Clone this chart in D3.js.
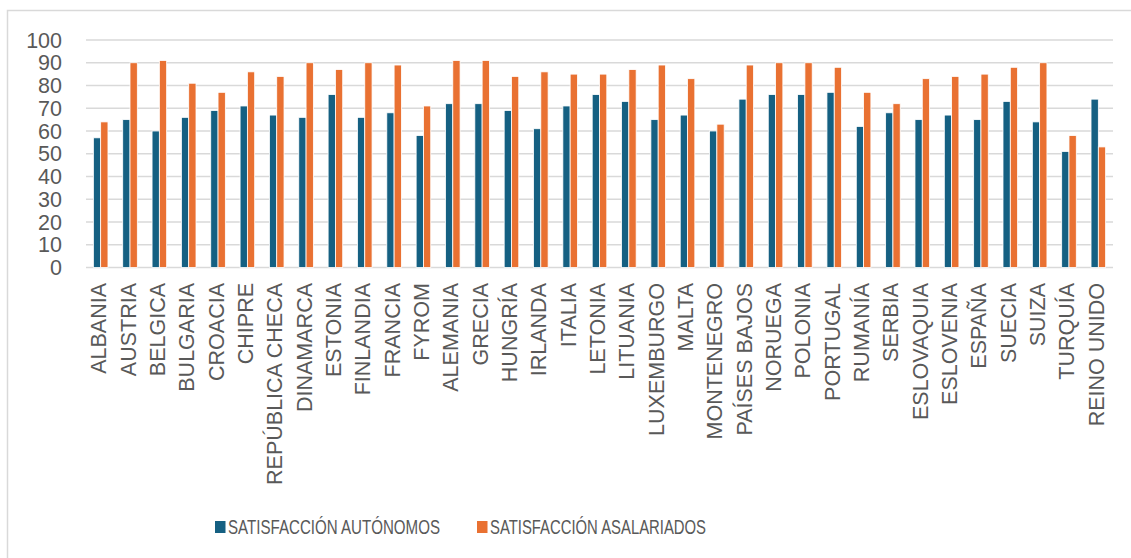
<!DOCTYPE html>
<html>
<head>
<meta charset="utf-8">
<script src="https://cdn.jsdelivr.net/npm/d3@7"></script>
<style>
  body { margin: 0; background: #fff; }
  svg { display: block; }
  text { font-family: "Liberation Sans", Arial, sans-serif; fill: #595959; }
</style>
</head>
<body>
<script>
var countries = ["ALBANIA", "AUSTRIA", "BELGICA", "BULGARIA", "CROACIA", "CHIPRE",
  "REPÚBLICA CHECA", "DINAMARCA", "ESTONIA", "FINLANDIA", "FRANCIA", "FYROM",
  "ALEMANIA", "GRECIA", "HUNGRÍA", "IRLANDA", "ITALIA", "LETONIA", "LITUANIA",
  "LUXEMBURGO", "MALTA", "MONTENEGRO", "PAÍSES BAJOS", "NORUEGA", "POLONIA",
  "PORTUGAL", "RUMANÍA", "SERBIA", "ESLOVAQUIA", "ESLOVENIA", "ESPAÑA", "SUECIA",
  "SUIZA", "TURQUÍA", "REINO UNIDO"];
var autonomos = [57, 65, 60, 66, 69, 71, 67, 66, 76, 66, 68, 58, 72, 72, 69, 61, 71, 76, 73,
  65, 67, 60, 74, 76, 76, 77, 62, 68, 65, 67, 65, 73, 64, 51, 74];
var asalariados = [64, 90, 91, 81, 77, 86, 84, 90, 87, 90, 89, 71, 91, 91, 84, 86, 85, 85, 87,
  89, 83, 63, 89, 90, 90, 88, 77, 72, 83, 84, 85, 88, 90, 58, 53];
var seriesNames = ["SATISFACCIÓN AUTÓNOMOS", "SATISFACCIÓN ASALARIADOS"];
var yTicks = [0, 10, 20, 30, 40, 50, 60, 70, 80, 90, 100];

var svgWidth = 1131;
var svgHeight = 558;
var colors = ["#156082", "#E97132"];

var svg = d3.select("body")
  .append("svg")
  .attr("width", svgWidth)
  .attr("height", svgHeight);

// chart frame (only top and left edges are inside the picture)
svg.append("path")
  .attr("d", "M7.5,558 V10.5 H1131")
  .attr("fill", "none")
  .attr("stroke", "#D9D9D9")
  .attr("stroke-width", 1.5);

var plotLeft = 86, plotRight = 1113, plotTop = 40, plotBottom = 267.5;

var xScale = d3.scaleBand()
  .domain(countries)
  .range([plotLeft, plotRight]);

var yScale = d3.scaleLinear()
  .domain([0, 100])
  .range([plotBottom, plotTop]);

var barW = 7.3;

// gridlines
svg.append("g")
  .selectAll("line")
  .data(yTicks)
  .enter()
  .append("line")
  .attr("x1", plotLeft)
  .attr("x2", plotRight)
  .attr("y1", d => yScale(d))
  .attr("y2", d => yScale(d))
  .attr("stroke", "#D9D9D9")
  .attr("stroke-width", 1.6);

// y labels
svg.append("g")
  .selectAll("text")
  .data(yTicks)
  .enter()
  .append("text")
  .attr("x", 62)
  .attr("y", d => yScale(d))
  .attr("dy", "0.35em")
  .attr("text-anchor", "end")
  .style("font-size", "21.5px")
  .text(d => d);

var data = countries.map(function(c, i) {
  return { name: c, a: autonomos[i], s: asalariados[i] };
});

var groups = svg.append("g")
  .selectAll("g")
  .data(data)
  .enter()
  .append("g");

groups.append("rect")
  .attr("x", d => xScale(d.name) + xScale.bandwidth() / 2 - barW)
  .attr("width", barW)
  .attr("y", d => yScale(d.a))
  .attr("height", d => yScale(0) - yScale(d.a))
  .attr("fill", colors[0])
  .attr("stroke", "#fff")
  .attr("stroke-width", 0.8);

groups.append("rect")
  .attr("x", d => xScale(d.name) + xScale.bandwidth() / 2)
  .attr("width", barW)
  .attr("y", d => yScale(d.s))
  .attr("height", d => yScale(0) - yScale(d.s))
  .attr("fill", colors[1])
  .attr("stroke", "#fff")
  .attr("stroke-width", 0.8);

// x labels, rotated
svg.append("g")
  .selectAll("text")
  .data(countries)
  .enter()
  .append("text")
  .attr("transform", d => `translate(${xScale(d) + xScale.bandwidth() / 2 + 5.5}, 283) rotate(-90)`)
  .attr("text-anchor", "end")
  .style("font-size", "21.5px")
  .text(d => d);

// legend
var legendX = [215, 477];
var legendW = [212, 216];
var legend = svg.append("g")
  .selectAll("g")
  .data(seriesNames)
  .enter()
  .append("g")
  .attr("transform", (d, i) => `translate(${legendX[i]}, 527)`);

legend.append("rect")
  .attr("x", 0)
  .attr("y", -6)
  .attr("width", 10.5)
  .attr("height", 12)
  .attr("fill", (d, i) => colors[i]);

legend.append("text")
  .attr("x", 13)
  .attr("dy", "0.36em")
  .style("font-size", "20.5px")
  .attr("textLength", (d, i) => legendW[i])
  .attr("lengthAdjust", "spacingAndGlyphs")
  .text(d => d);
</script>
</body>
</html>
